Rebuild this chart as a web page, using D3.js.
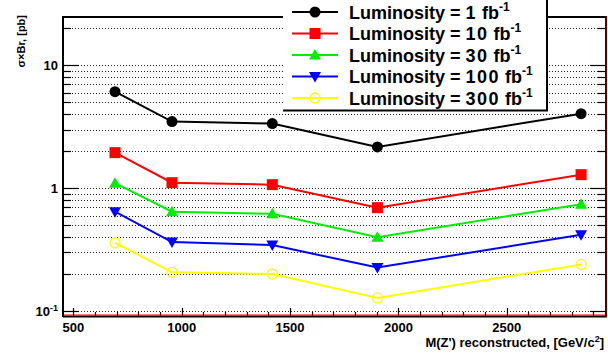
<!DOCTYPE html>
<html>
<head>
<meta charset="utf-8">
<script src="https://cdn.jsdelivr.net/npm/d3@7"></script>
<style>
  html, body { margin: 0; padding: 0; background: #fff; }
  svg { display: block; font-family: "Liberation Sans", Arial, sans-serif; }
</style>
</head>
<body>
<svg id="chart" width="608" height="358"></svg>
<script>
// Z' mass points (GeV/c^2) and sigma x Br reach (pb) per integrated luminosity
const masses = [692, 955, 1418, 1903, 2843];
const lumi1   = [6.12, 3.49, 3.36, 2.17, 4.05];
const lumi10  = [1.95, 1.11, 1.07, 0.695, 1.29];
const lumi30  = [1.10, 0.645, 0.62, 0.40, 0.74];
const lumi100 = [0.645, 0.365, 0.345, 0.226, 0.419];
const lumi300 = [0.36, 0.207, 0.20, 0.128, 0.24];

const seriesNames = ["1", "10", "30", "100", "300"];
const seriesColors = ["#000000", "#ff0000", "#00ee00", "#0000ff", "#ffff00"];
const seriesShapes = ["circle", "square", "triangleUp", "triangleDown", "openCircle"];
const seriesValues = [lumi1, lumi10, lumi30, lumi100, lumi300];

const xTicks = [500, 1000, 1500, 2000, 2500];
const yMajorTicks = [0.1, 1, 10];

const svg = d3.select("#chart");
const frame = { left: 63, right: 606, top: 17, bottom: 316 };

const x = d3.scaleLinear().domain([452, 2958]).range([frame.left, frame.right]);
const y = d3.scaleLog().domain([0.0912, 24.8]).range([frame.bottom, frame.top]);

// horizontal dotted grid at every log tick
const yAll = [];
[0.1, 1, 10].forEach(d => { for (let k = 1; k <= 9; k++) { const v = d * k; if (v >= 0.0912 && v <= 24.8) yAll.push(v); } });

const gridG = svg.append("g");
gridG.selectAll("line").data(yAll).join("line")
  .attr("x1", frame.left).attr("x2", frame.right)
  .attr("y1", d => Math.round(y(d)) + 0.5).attr("y2", d => Math.round(y(d)) + 0.5)
  .attr("stroke", "#222").attr("stroke-width", 1).attr("stroke-dasharray", "1,2");

// y ticks, both sides, pointing inward
const isMajor = v => yMajorTicks.some(m => Math.abs(m - v) < 1e-9);
const tickG = svg.append("g").attr("stroke", "#000").attr("stroke-width", 1.2);
tickG.selectAll("line.yl").data(yAll).join("line").attr("class", "yl")
  .attr("x1", frame.left).attr("x2", d => frame.left + (isMajor(d) ? 16 : 8))
  .attr("y1", d => Math.round(y(d)) + 0.5).attr("y2", d => Math.round(y(d)) + 0.5);
tickG.selectAll("line.yr").data(yAll).join("line").attr("class", "yr")
  .attr("x1", frame.right).attr("x2", d => frame.right - (isMajor(d) ? 16 : 8))
  .attr("y1", d => Math.round(y(d)) + 0.5).attr("y2", d => Math.round(y(d)) + 0.5);

// x ticks along the bottom, pointing up
const xMinor = d3.range(500, 2958, 100);
tickG.selectAll("line.xb").data(xMinor).join("line").attr("class", "xb")
  .attr("x1", d => Math.round(x(d)) + 0.5).attr("x2", d => Math.round(x(d)) + 0.5)
  .attr("y1", frame.bottom).attr("y2", d => frame.bottom - (d % 500 === 0 ? 8 : 4));

// data lines and markers
const line = d3.line().x((d, i) => x(masses[i])).y(d => y(d));
const plotG = svg.append("g");

function drawMarker(g, shape, color, cx, cy) {
  if (shape === "circle") {
    g.append("circle").attr("cx", cx).attr("cy", cy).attr("r", 5.5).attr("fill", color);
  } else if (shape === "openCircle") {
    g.append("circle").attr("cx", cx).attr("cy", cy).attr("r", 5).attr("fill", "none")
      .attr("stroke", color).attr("stroke-width", 1.3);
  } else if (shape === "square") {
    g.append("rect").attr("x", cx - 5.5).attr("y", cy - 5.5).attr("width", 11).attr("height", 11).attr("fill", color);
  } else if (shape === "triangleUp") {
    g.append("path").attr("d", `M${cx},${cy - 6}L${cx + 6},${cy + 4.5}L${cx - 6},${cy + 4.5}Z`).attr("fill", color);
  } else if (shape === "triangleDown") {
    g.append("path").attr("d", `M${cx},${cy + 6}L${cx + 6},${cy - 4.5}L${cx - 6},${cy - 4.5}Z`).attr("fill", color);
  }
}

seriesValues.forEach((vals, s) => {
  plotG.append("path").datum(vals).attr("d", line)
    .attr("fill", "none").attr("stroke", seriesColors[s]).attr("stroke-width", 2);
  vals.forEach((v, i) => drawMarker(plotG, seriesShapes[s], seriesColors[s], x(masses[i]), y(v)));
});

// frame
svg.append("line").attr("x1", frame.left).attr("x2", frame.right).attr("y1", frame.top).attr("y2", frame.top)
  .attr("stroke", "#000").attr("stroke-width", 2);
svg.append("line").attr("x1", frame.left).attr("x2", frame.left).attr("y1", frame.top - 1).attr("y2", frame.bottom + 1)
  .attr("stroke", "#000").attr("stroke-width", 2);
svg.append("line").attr("x1", frame.left).attr("x2", frame.right + 1).attr("y1", frame.bottom + 0.5).attr("y2", frame.bottom + 0.5)
  .attr("stroke", "#000").attr("stroke-width", 2);
svg.append("line").attr("x1", frame.left + 1).attr("x2", frame.right).attr("y1", frame.bottom - 1).attr("y2", frame.bottom - 1)
  .attr("stroke", "#ff0000").attr("stroke-width", 1);
svg.append("line").attr("x1", frame.right).attr("x2", frame.right).attr("y1", frame.top - 1).attr("y2", frame.bottom + 1)
  .attr("stroke", "#5a0000").attr("stroke-width", 2);

// axis labels
const labG = svg.append("g").attr("font-weight", "bold").attr("font-size", 13).attr("fill", "#000");
labG.selectAll("text.xl").data(xTicks).join("text").attr("class", "xl")
  .attr("x", d => x(d)).attr("y", 332).attr("text-anchor", "middle").text(d => d);

const yLabelText = [{ v: 0.1, base: "10", sup: "-1" }, { v: 1, base: "1", sup: "" }, { v: 10, base: "10", sup: "" }];
yLabelText.forEach(t => {
  const tx = labG.append("text").attr("x", 58).attr("y", y(t.v) + 5).attr("text-anchor", "end");
  tx.append("tspan").text(t.base);
  if (t.sup) tx.append("tspan").attr("font-size", 9).attr("dy", -5).text(t.sup);
});

const xTitle = labG.append("text").attr("x", 604).attr("y", 347).attr("text-anchor", "end");
xTitle.append("tspan").text("M(Z') reconstructed, [GeV/c");
xTitle.append("tspan").attr("font-size", 9).attr("dy", -5).text("2");
xTitle.append("tspan").attr("dy", 5).text("]");

svg.append("text").attr("transform", "translate(25,15) rotate(-90)")
  .attr("text-anchor", "end").attr("font-size", 11).attr("font-weight", "bold")
  .text("σ×Br, [pb]");

// legend
const legG = svg.append("g");
legG.append("rect").attr("x", 283).attr("y", -2).attr("width", 264).attr("height", 112).attr("fill", "#fff");
legG.append("line").attr("x1", 547).attr("x2", 547).attr("y1", -2).attr("y2", 111).attr("stroke", "#000").attr("stroke-width", 2);
legG.append("line").attr("x1", 283).attr("x2", 548).attr("y1", 110.5).attr("y2", 110.5).attr("stroke", "#000").attr("stroke-width", 2);

const legRowY = [12, 33.5, 55, 76.5, 98];
seriesNames.forEach((name, s) => {
  const ry = legRowY[s];
  legG.append("line").attr("x1", 292).attr("x2", 338).attr("y1", ry).attr("y2", ry)
    .attr("stroke", seriesColors[s]).attr("stroke-width", 2);
  drawMarker(legG, seriesShapes[s], seriesColors[s], 315, ry);
  const t = legG.append("text").attr("x", 349).attr("y", ry + 6.5)
    .attr("font-size", 18).attr("font-weight", "bold");
  t.append("tspan").text("Luminosity = ");
  t.append("tspan").attr("letter-spacing", 1.5).text(name);
  t.append("tspan").text(" fb");
  t.append("tspan").attr("font-size", 12).attr("dy", -8).text("-1");
});
</script>
</body>
</html>
